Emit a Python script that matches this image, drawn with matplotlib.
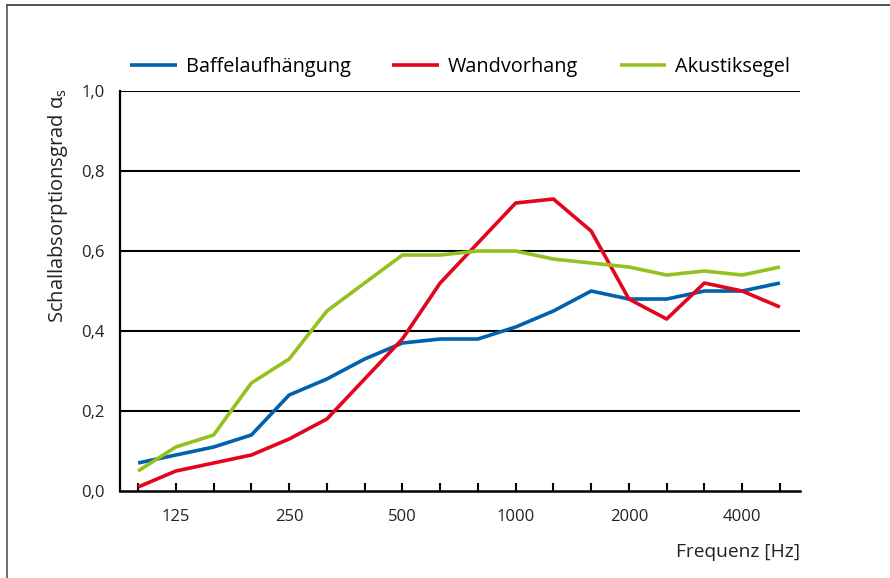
import numpy as np
import matplotlib.pyplot as plt
from matplotlib.lines import Line2D

plt.rcParams['font.family'] = ['Open Sans', 'DejaVu Sans']
plt.rcParams['mathtext.fontset'] = 'custom'
plt.rcParams['mathtext.rm'] = 'Open Sans'
plt.rcParams['mathtext.it'] = 'Open Sans'

# third-octave bands 100 Hz .. 5000 Hz
bands = [100, 125, 160, 200, 250, 315, 400, 500, 630, 800,
         1000, 1250, 1600, 2000, 2500, 3150, 4000, 5000]
tick_labels = ['125', '250', '500', '1000', '2000', '4000']

baffel = [0.07, 0.09, 0.11, 0.14, 0.24, 0.28, 0.33, 0.37, 0.38, 0.38,
          0.41, 0.45, 0.50, 0.48, 0.48, 0.50, 0.50, 0.52]
wand = [0.01, 0.05, 0.07, 0.09, 0.13, 0.18, 0.28, 0.38, 0.52, 0.62,
        0.72, 0.73, 0.65, 0.48, 0.43, 0.52, 0.50, 0.46]
segel = [0.05, 0.11, 0.14, 0.27, 0.33, 0.45, 0.52, 0.59, 0.59, 0.60,
         0.60, 0.58, 0.57, 0.56, 0.54, 0.55, 0.54, 0.56]

names = ['Baffelaufhängung', 'Wandvorhang', 'Akustiksegel']
colors = ['#0061ad', '#e3051b', '#95c11f']

fig = plt.figure(figsize=(8.9, 5.78), dpi=100)
ax = fig.add_axes([0.1348, 0.1505, 0.7640, 0.6920])

x = np.arange(len(bands))
for vals, name, c in zip([baffel, wand, segel], names, colors):
    ax.plot(x, vals, color=c, lw=2.6, label=name, solid_capstyle='butt', zorder=3)

ax.set_xlim(-0.48, 17.53)
ax.set_ylim(0, 1.0)
ax.set_yticks(np.arange(0, 1.01, 0.2))
ax.set_yticklabels(['0,0', '0,2', '0,4', '0,6', '0,8', '1,0'])
for yv in np.arange(0.2, 1.01, 0.2):
    ax.axhline(yv, color='black', lw=1.5, zorder=1)

ax.set_xticks(x)
ax.set_xticklabels(['' if str(b) not in tick_labels else str(b) for b in bands])
ax.tick_params(axis='x', direction='in', length=6, width=1.5, pad=13, labelsize=12, colors='black')
ax.tick_params(axis='y', length=0, pad=11, labelsize=12)
for lab in ax.get_xticklabels() + ax.get_yticklabels():
    lab.set_color('#222222')

for s in ['top', 'right']:
    ax.spines[s].set_visible(False)
ax.spines['left'].set_linewidth(1.6)
ax.spines['bottom'].set_linewidth(1.8)

ax.set_ylabel(r'Schallabsorptionsgrad $\alpha_\mathrm{s}$', fontsize=14.5, color='#222222', loc='top')
ax.yaxis.set_label_coords(-0.074, 1.008)
fig.text(0.8989, 0.045, 'Frequenz [Hz]', ha='right', va='center', fontsize=13.8, color='#222222')

fig.legend(loc='center left', bbox_to_anchor=(0.146, 0.884), ncol=3, frameon=False,
           fontsize=14.3, handlelength=2.35, handletextpad=0.45, columnspacing=2.1,
           borderpad=0, borderaxespad=0)

# outer frame
fig.add_artist(Line2D([0.0079, 1.0], [0.9905, 0.9905], color='#333333', lw=1.2))
fig.add_artist(Line2D([0.0079, 0.0079], [0.0, 0.9905], color='#555555', lw=1.2))

fig.savefig('out.png', dpi=100)
